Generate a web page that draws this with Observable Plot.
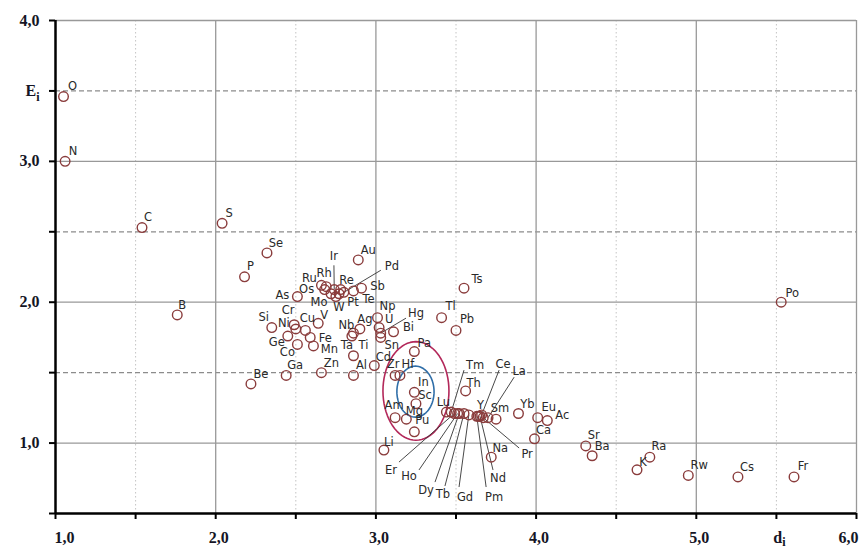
<!DOCTYPE html>
<html>
<head>
<meta charset="utf-8">
<script src="https://cdn.jsdelivr.net/npm/d3@7"></script>
<script src="https://cdn.jsdelivr.net/npm/@observablehq/plot@0.6"></script>
<style>
  html, body { margin: 0; padding: 0; background: #fff; }
  #chart svg { display: block; overflow: visible; }
</style>
</head>
<body>
<div id="chart"></div>
<script>
// ---- Data ----
const elements = ["O","N","C","S","Se","P","B","Au","Ru","Rh","Os","Ir","Re","Pd","Mo","W","Pt","Sb","Te","As",
  "Tl","Ts","Pb","Np","U","Hg","Bi","Sn","Ag","Nb","Ta","Ti","Cd","Al","Zn","Ga","Be","Si","Cr","Ni",
  "Cu","Fe","Ge","Co","Mn","V","Pa","Zr","Hf","In","Sc","Am","Mg","Pu","Li","Lu","Tm","Er","Ho","Dy",
  "Tb","Gd","Pm","Y","Nd","Ce","Pr","La","Sm","Th","Na","Yb","Eu","Ac","Ca","Sr","Ba","Ra","K","Rw",
  "Cs","Fr","Po"];
const dValues = [1.05,1.06,1.54,2.04,2.32,2.18,1.76,2.89,2.66,2.69,2.68,2.74,2.78,2.80,2.72,2.75,2.77,2.91,2.86,2.51,
  3.41,3.55,3.50,3.01,3.02,3.03,3.11,3.03,2.90,2.86,2.85,2.86,2.99,2.86,2.66,2.44,2.22,2.35,2.49,2.50,
  2.56,2.59,2.45,2.51,2.61,2.64,3.24,3.12,3.15,3.24,3.25,3.12,3.19,3.24,3.05,3.44,3.47,3.49,3.51,3.52,
  3.55,3.58,3.63,3.64,3.65,3.66,3.67,3.70,3.75,3.56,3.72,3.89,4.01,4.07,3.99,4.31,4.35,4.71,4.63,4.95,
  5.26,5.61,5.53];
const eValues = [3.46,3.00,2.53,2.56,2.35,2.18,1.91,2.30,2.12,2.11,2.09,2.09,2.09,2.07,2.06,2.04,2.06,2.10,2.08,2.04,
  1.89,2.10,1.80,1.89,1.82,1.78,1.79,1.75,1.81,1.78,1.76,1.62,1.55,1.48,1.50,1.48,1.42,1.82,1.84,1.81,
  1.80,1.75,1.76,1.70,1.69,1.85,1.65,1.48,1.48,1.36,1.28,1.18,1.17,1.08,0.95,1.22,1.22,1.21,1.21,1.21,
  1.21,1.20,1.19,1.19,1.19,1.20,1.18,1.18,1.17,1.37,0.90,1.21,1.18,1.16,1.03,0.98,0.91,0.90,0.81,0.77,
  0.76,0.76,2.00];

// Callout leader-line end points (data units)
const calloutNames = ["Ir","Pd","Hg","Tm","Ce","La","Er","Ho","Dy","Tb","Gd","Pm","Nd","Pr"];
const calloutD = [2.738,3.031,3.188,3.550,3.769,3.863,3.144,3.269,3.369,3.431,3.519,3.688,3.731,3.894];
const calloutE = [2.262,2.227,1.887,1.518,1.518,1.468,0.865,0.809,0.723,0.695,0.688,0.688,0.809,0.965];

// Highlight ellipses: centre and half-axes (data units)
const ellipseNames = ["outer","inner"];
const ellipseCx = [3.25, 3.247];
const ellipseCy = [1.37, 1.365];
const ellipseRx = [0.206, 0.116];
const ellipseRy = [0.35, 0.181];

// Axis ticks
const xMajor = [1,2,3,4,5,6];
const xHalf = [1.5,2.5,3.5,4.5,5.5];
const yMajor = [1,2,3,4];
const yHalf = [1.5,2.5,3.5];

// ---- Layout (label offsets in px, not data) ----
const labelOffset = {
  O:[9,-10],N:[8,-10],C:[6,-10],S:[7,-10],Se:[9,-10],P:[6,-11],B:[5,-10],Au:[10,-10],
  Ru:[-12,-7],Rh:[-2,-13],Os:[-18,0],Re:[6,-9],Mo:[-12,9],W:[3,11],Pt:[14,9],Sb:[16,-2],Te:[15,8],As:[-15,-1],
  Tl:[9,-11],Ts:[13,-9],Pb:[11,-11],Np:[10,-11],U:[10,-8],Bi:[15,-4],Sn:[11,8],Ag:[5,-10],
  Nb:[-7,-8],Ta:[-5,9],Ti:[10,-10],Cd:[9,-8],Al:[8,-10],Zn:[10,-9],Ga:[9,-10],Be:[10,-10],Si:[-8,-10],
  Cr:[-6,-14],Ni:[-12,-6],Cu:[2,-12],Fe:[15,1],Ge:[-11,6],Co:[-10,8],Mn:[16,3],V:[6,-8],
  Pa:[10,-8],Zr:[-2,-11],Hf:[8,-11],In:[9,-10],Sc:[9,-8],Am:[-1,-12],Mg:[8,-8],Pu:[8,-11],Li:[5,-8],
  Lu:[-3,-10],Y:[2,-11],Sm:[4,-11],Th:[8,-8],Na:[9,-9],Yb:[9,-9],Eu:[11,-10],Ac:[15,-5],Ca:[9,-9],
  Sr:[8,-11],Ba:[10,-9],Ra:[9,-11],K:[6,-8],Rw:[11,-10],Cs:[9,-10],Fr:[9,-11],Po:[11,-9]
};
const calloutOffset = {
  Ir:[0,-9],Pd:[11,-4],Hg:[10,-5],Tm:[11,-5],Ce:[4,-6],La:[5,-6],Er:[-8,8],Ho:[-10,6],
  Dy:[-9,8],Tb:[-2,8],Gd:[6,10],Pm:[8,10],Nd:[5,8],Pr:[8,6]
};

// ---- Build tables ----
const points = elements.map((el, i) => ({el, d: dValues[i], E: eValues[i]}));
const byName = new Map(points.map(p => [p.el, p]));
const callouts = calloutNames.map((el, i) => ({el, d: byName.get(el).d, E: byName.get(el).E, ex: calloutD[i], ey: calloutE[i]}));
const ellipses = ellipseNames.map((name, i) =>
  d3.range(0, 73).map(k => {
    const t = k / 72 * 2 * Math.PI;
    return {name, x: ellipseCx[i] + ellipseRx[i] * Math.cos(t), y: ellipseCy[i] + ellipseRy[i] * Math.sin(t)};
  }));

const labelFont = "DejaVu Sans, Verdana, sans-serif";
const axisFont = "Liberation Serif, Times New Roman, serif";
const pointColor = "#8a3c3c";
const labelColor = "#2a2a2a";

const axisText = {tickSize: 0, fontSize: 16, fontWeight: "bold", fontFamily: axisFont, fill: "#151525"};
const fmt = d => d.toFixed(1).replace(".", ",");

const marks = [
  // grid
  Plot.ruleX(xHalf, {stroke: "#c4c4c4", strokeDasharray: "1.5,2.5", strokeWidth: 1}),
  Plot.ruleY(yHalf, {stroke: "#8c8c8c", strokeDasharray: "5,3", strokeWidth: 1.2}),
  Plot.ruleX(xMajor.slice(1), {stroke: "#999", strokeWidth: 1.3}),
  Plot.ruleY(yMajor, {stroke: "#999", strokeWidth: 1.3}),
  // ellipses
  Plot.line(ellipses[0], {x: "x", y: "y", stroke: "#b3285a", strokeWidth: 1.6}),
  Plot.line(ellipses[1], {x: "x", y: "y", stroke: "#2f6ea8", strokeWidth: 1.6}),
  // leader lines
  Plot.link(callouts, {x1: "d", y1: "E", x2: "ex", y2: "ey", stroke: "#333", strokeWidth: 0.9}),
  // points
  Plot.dot(points, {x: "d", y: "E", r: 4.8, stroke: pointColor, strokeWidth: 1.4, fill: "none"}),
  // axis lines
  Plot.ruleX([1], {stroke: "#000", strokeWidth: 2.5}),
  Plot.ruleY([0.5], {stroke: "#000", strokeWidth: 2.5}),
  // tick marks
  Plot.axisX([...xMajor, ...xHalf], {tickSize: 6, strokeWidth: 2, stroke: "#000", text: null}),
  Plot.axisY([...yMajor, ...yHalf, 0.5], {tickSize: 6, strokeWidth: 2, stroke: "#000", text: null}),
  // tick labels
  Plot.axisX([2,3,4,5,5.5], {...axisText, tickPadding: 18, dx: 3,
    tickFormat: d => d === 5.5 ? "d_i" : fmt(d)}),
  Plot.axisX([1], {...axisText, tickPadding: 18, dx: 9, tickFormat: fmt}),
  Plot.axisX([6], {...axisText, tickPadding: 18, dx: -8, tickFormat: fmt}),
  Plot.axisY([1,2,3,3.5,4], {...axisText, tickPadding: 16,
    tickFormat: d => d === 3.5 ? "E_i" : fmt(d)}),
  // point labels
  ...points.filter(p => labelOffset[p.el]).map(p =>
    Plot.text([p], {x: "d", y: "E", text: "el", dx: labelOffset[p.el][0], dy: labelOffset[p.el][1],
      fontSize: 11.5, fontFamily: labelFont, fill: labelColor})),
  ...callouts.map(c =>
    Plot.text([c], {x: "ex", y: "ey", text: "el", dx: calloutOffset[c.el][0], dy: calloutOffset[c.el][1],
      fontSize: 11.5, fontFamily: labelFont, fill: labelColor}))
];

const chart = Plot.plot({
  width: 863,
  height: 550,
  marginLeft: 55,
  marginRight: 7,
  marginTop: 20,
  marginBottom: 37,
  x: {domain: [1, 6]},
  y: {domain: [0.5, 4]},
  style: {background: "#fff", overflow: "visible"},
  marks
});

// subscripts for the axis names
chart.querySelectorAll("text").forEach(t => {
  const s = t.textContent;
  if (s === "E_i" || s === "d_i") {
    t.textContent = "";
    const a = document.createElementNS("http://www.w3.org/2000/svg", "tspan");
    a.textContent = s[0];
    const b = document.createElementNS("http://www.w3.org/2000/svg", "tspan");
    b.textContent = "i";
    b.setAttribute("dy", s === "d_i" ? "3" : "5");
    b.setAttribute("font-size", "12");
    t.appendChild(a); t.appendChild(b);
  }
});

document.getElementById("chart").appendChild(chart);
</script>
</body>
</html>
